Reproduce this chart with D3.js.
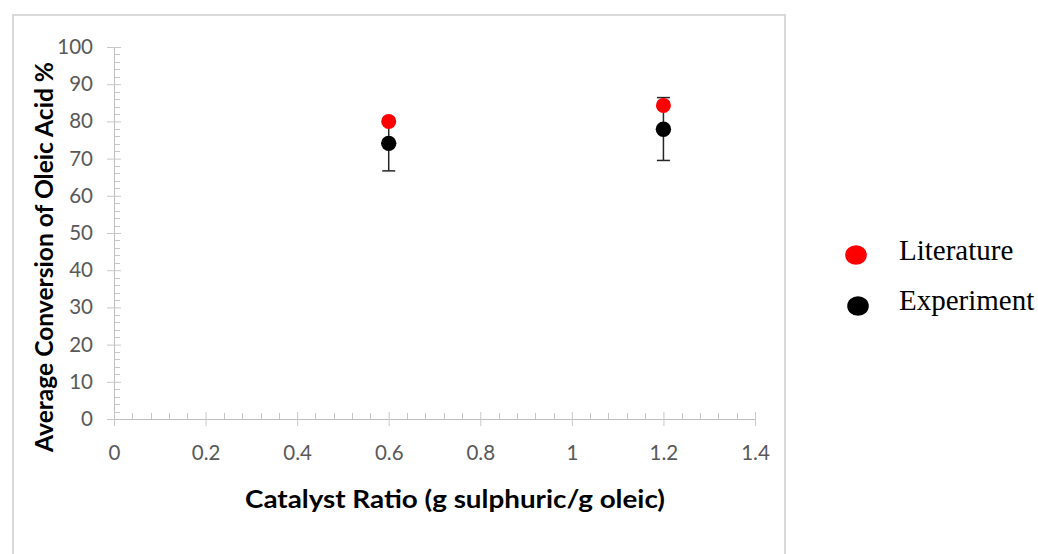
<!DOCTYPE html>
<html>
<head>
<meta charset="utf-8">
<script src="https://cdn.jsdelivr.net/npm/d3@7"></script>
<style>
  html, body { margin: 0; padding: 0; background: #fff; }
  svg { display: block; }
</style>
</head>
<body>
<svg id="chart" width="1038" height="554"></svg>
<script>
// Catalyst ratios tested (g sulphuric / g oleic)
const catalystRatio = [0.6, 1.2];
// Average conversion of oleic acid, %
const literature = [80.0, 84.3];
const experiment = [74.1, 77.9];
// Error bars on the experimental conversions (plus / minus, %)
const experimentErrorPlus = [5.9, 8.5];
const experimentErrorMinus = [7.4, 8.4];
// Axis ticks
const xTicks = [0, 0.2, 0.4, 0.6, 0.8, 1, 1.2, 1.4];
const yTicks = [0, 10, 20, 30, 40, 50, 60, 70, 80, 90, 100];
const seriesNames = ["Literature", "Experiment"];
const seriesColors = ["#ff0000", "#000000"];

const svg = d3.select("#chart");

// chart frame
svg.append("rect")
  .attr("x", 13).attr("y", 15)
  .attr("width", 772).attr("height", 560)
  .attr("fill", "#fff")
  .attr("stroke", "#d9d9d9").attr("stroke-width", 2);

const x = d3.scaleLinear().domain([0, 1.4]).range([114, 755]);
const y = d3.scaleLinear().domain([0, 100]).range([419, 47]);

const axisColor = "#bfbfbf";
const tickColor = "#c8c8c8";
const labelColor = "#595959";
const uiFont = "Lato, 'Open Sans', sans-serif";

// minor ticks (inside the plot area)
const yMinor = d3.range(0, 100.01, 2).filter(v => v % 10 !== 0);
svg.append("g").selectAll("line").data(yMinor).join("line")
  .attr("x1", x(0)).attr("x2", x(0) + 6)
  .attr("y1", d => Math.round(y(d)) + 0.5).attr("y2", d => Math.round(y(d)) + 0.5)
  .attr("stroke", tickColor);
const xMinor = d3.range(0, 1.4001, 0.04).filter(v => Math.abs(v * 5 - Math.round(v * 5)) > 1e-6);
svg.append("g").selectAll("line").data(xMinor).join("line")
  .attr("x1", d => Math.round(x(d)) + 0.5).attr("x2", d => Math.round(x(d)) + 0.5)
  .attr("y1", y(0)).attr("y2", y(0) - 6)
  .attr("stroke", tickColor);

// y axis
const yAxis = svg.append("g")
  .attr("transform", `translate(${x(0)},0)`)
  .call(d3.axisLeft(y).tickValues(yTicks).tickSize(7).tickFormat(d3.format("d")));
yAxis.select(".domain").attr("stroke", axisColor);
yAxis.selectAll(".tick line").attr("stroke", tickColor).attr("x2", 7).attr("x1", -7);
yAxis.selectAll(".tick text")
  .attr("x", -21)
  .attr("fill", labelColor).attr("font-family", uiFont).attr("font-size", 20.5);

// x axis
const xAxis = svg.append("g")
  .attr("transform", `translate(0,${y(0)})`)
  .call(d3.axisBottom(x).tickValues(xTicks).tickSize(7).tickPadding(19).tickFormat(d => String(d)));
xAxis.select(".domain").attr("stroke", axisColor);
xAxis.selectAll(".tick line").attr("stroke", tickColor).attr("y1", -7).attr("y2", 7);
xAxis.selectAll(".tick text")
  .attr("fill", labelColor).attr("font-family", uiFont).attr("font-size", 20.5);

// axis titles
svg.append("text")
  .attr("x", 455).attr("y", 508)
  .attr("text-anchor", "middle")
  .attr("font-family", uiFont).attr("font-weight", "bold").attr("font-size", 24)
  .attr("textLength", 420).attr("lengthAdjust", "spacingAndGlyphs")
  .attr("fill", "#000")
  .text("Catalyst Ratio (g sulphuric/g oleic)");
svg.append("text")
  .attr("transform", "translate(53,257) rotate(-90)")
  .attr("text-anchor", "middle")
  .attr("font-family", uiFont).attr("font-weight", "bold").attr("font-size", 25)
  .attr("textLength", 390).attr("lengthAdjust", "spacingAndGlyphs")
  .attr("fill", "#000")
  .text("Average Conversion of Oleic Acid %");

// error bars for the experimental series
const eb = svg.append("g").attr("stroke", "#262626").attr("stroke-width", 1.5);
catalystRatio.forEach((c, i) => {
  const lo = experiment[i] - experimentErrorMinus[i];
  const hi = experiment[i] + experimentErrorPlus[i];
  eb.append("line").attr("x1", x(c)).attr("x2", x(c)).attr("y1", y(lo)).attr("y2", y(hi));
  [lo, hi].forEach(v => {
    eb.append("line").attr("x1", x(c) - 6.5).attr("x2", x(c) + 6.5).attr("y1", y(v)).attr("y2", y(v));
  });
});

// markers
svg.append("g").selectAll("circle").data(catalystRatio).join("circle")
  .attr("cx", d => x(d)).attr("cy", (d, i) => y(experiment[i]))
  .attr("r", 7.7).attr("fill", seriesColors[1]);
svg.append("g").selectAll("circle").data(catalystRatio).join("circle")
  .attr("cx", d => x(d)).attr("cy", (d, i) => y(literature[i]))
  .attr("r", 7.5).attr("fill", seriesColors[0]);

// legend
const legend = svg.append("g");
const legendPos = [{ cx: 856, cy: 255, ty: 260 }, { cx: 858, cy: 306, ty: 310 }];
seriesNames.forEach((name, i) => {
  legend.append("ellipse")
    .attr("cx", legendPos[i].cx).attr("cy", legendPos[i].cy)
    .attr("rx", 10.8).attr("ry", 9.8)
    .attr("fill", seriesColors[i]);
  legend.append("text")
    .attr("x", 899).attr("y", legendPos[i].ty)
    .attr("font-family", "'Liberation Serif', 'Times New Roman', serif")
    .attr("font-size", 29)
    .attr("fill", "#000")
    .text(name);
});
</script>
</body>
</html>
